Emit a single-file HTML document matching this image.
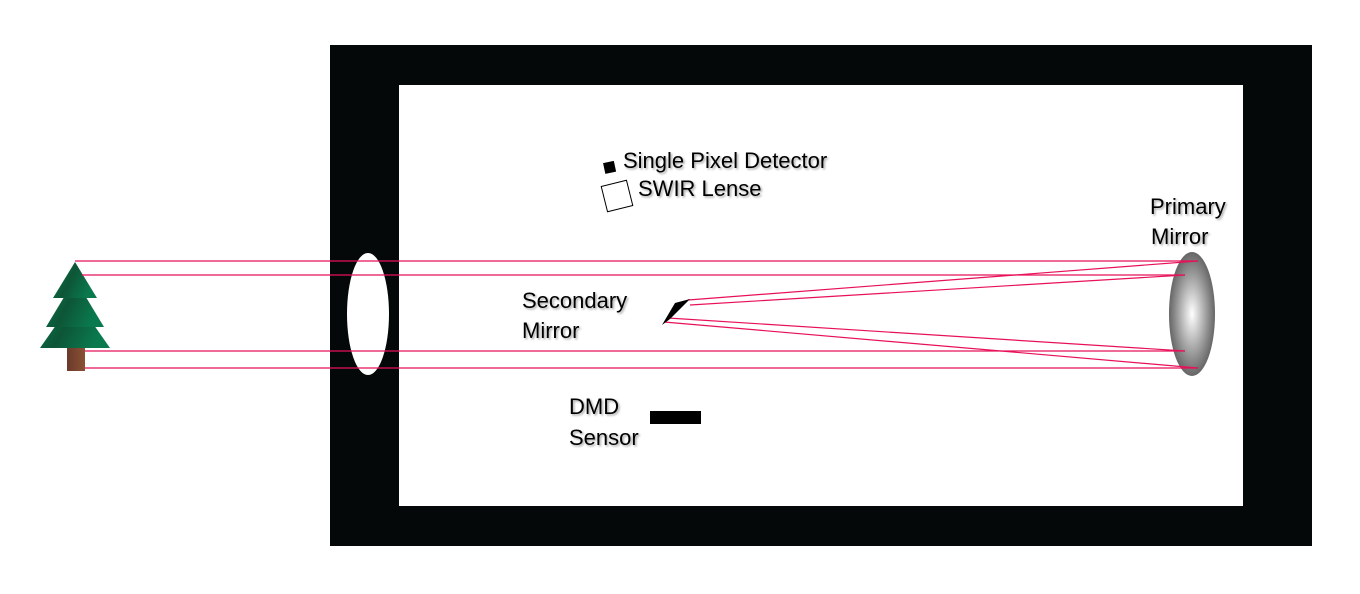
<!DOCTYPE html>
<html><head><meta charset="utf-8"><style>
body{margin:0;background:#fff}
svg{display:block}
text{font-family:"Liberation Sans",sans-serif;font-size:22px;fill:#000;filter:url(#sh)}
</style></head><body>
<svg width="1360" height="594" viewBox="0 0 1360 594">
<defs>
<filter id="sh" x="-5%" y="-20%" width="115%" height="150%"><feDropShadow dx="1.5" dy="1.5" stdDeviation="1" flood-color="#000" flood-opacity="0.35"/></filter>
<linearGradient id="tg" x1="0" y1="0" x2="1" y2="0.4"><stop offset="0" stop-color="#0a7a4e"/><stop offset="0.5" stop-color="#0d5536"/><stop offset="1" stop-color="#0a7a4e"/></linearGradient>
<linearGradient id="tk" x1="0" x2="1"><stop offset="0" stop-color="#6b3a2c"/><stop offset="1" stop-color="#8a5034"/></linearGradient>
<radialGradient id="mg" cx="0.5" cy="0.5" r="0.5"><stop offset="0" stop-color="#fff"/><stop offset="0.75" stop-color="#8a8a8a"/><stop offset="1" stop-color="#666"/></radialGradient>
</defs>
<rect x="330" y="45" width="982" height="501" fill="#050808"/>
<rect x="399" y="85" width="844" height="421" fill="#fff"/>
<ellipse cx="368" cy="314" rx="21" ry="61" fill="#fff"/>
<g>
<rect x="67" y="348" width="18" height="23" fill="url(#tk)"/>
<polygon points="75,298 40,348 110,348" fill="url(#tg)"/>
<polygon points="75,279 46,327 104,327" fill="url(#tg)"/>
<polygon points="75,262 53,298 97,298" fill="url(#tg)"/>
</g>
<ellipse cx="1192" cy="314" rx="23" ry="62" fill="url(#mg)"/>
<g stroke="#e8105a" stroke-width="1.2" fill="none">
<line x1="75" y1="261" x2="1198" y2="261"/>
<line x1="82" y1="275" x2="1185" y2="275"/>
<line x1="85" y1="351" x2="1185" y2="351"/>
<line x1="85" y1="368" x2="1198" y2="368"/>
<line x1="1198" y1="261" x2="688" y2="300"/>
<line x1="1185" y1="275" x2="690" y2="305"/>
<line x1="1185" y1="351" x2="668" y2="318"/>
<line x1="1198" y1="368" x2="664" y2="322"/>
</g>
<polygon points="662,325 675,303 690,299 670,319" fill="#000"/>
<rect x="604" y="162" width="11" height="11" fill="#000" transform="rotate(-12 609 167)"/>
<rect x="604" y="183" width="26" height="26" fill="#fff" stroke="#000" stroke-width="1" transform="rotate(-14 617 196)"/>
<rect x="650" y="411" width="51" height="13" fill="#000"/>
<text x="623" y="168">Single Pixel Detector</text>
<text x="638" y="196">SWIR Lense</text>
<text x="1150" y="214">Primary</text>
<text x="1151" y="244">Mirror</text>
<text x="522" y="308">Secondary</text>
<text x="522" y="338">Mirror</text>
<text x="569" y="414">DMD</text>
<text x="569" y="445">Sensor</text>
</svg>
</body></html>
